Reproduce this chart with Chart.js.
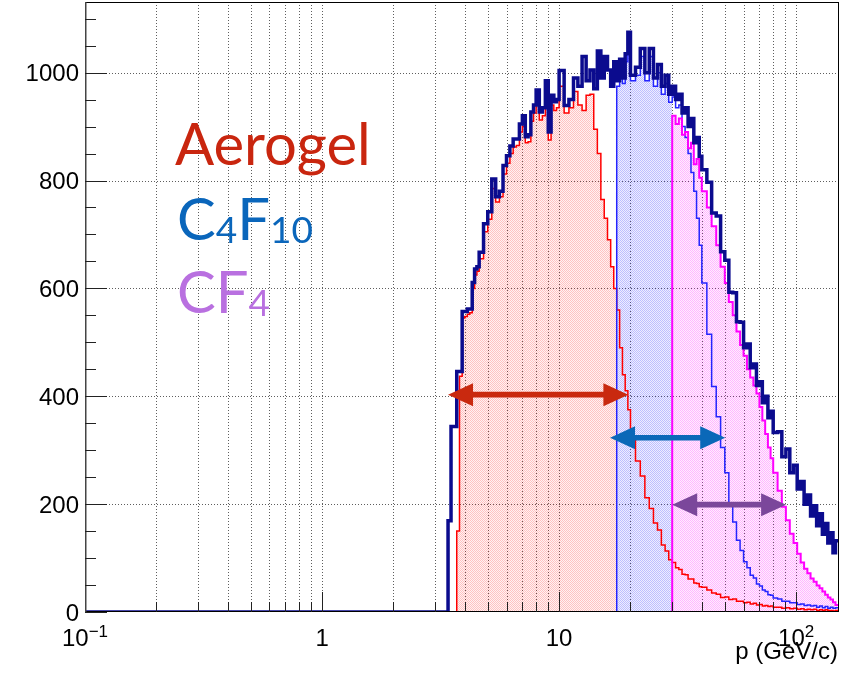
<!DOCTYPE html>
<html>
<head>
<meta charset="utf-8">
<title>Momentum coverage of the RICH radiators</title>
<script src="https://cdn.jsdelivr.net/npm/chart.js@4.4.1/dist/chart.umd.min.js"></script>
<style>
  html, body { margin: 0; padding: 0; background: #fff; }
  canvas { display: block; }
</style>
</head>
<body>
<canvas id="momentumChart" width="853" height="673"></canvas>
<script>
// Histogram bin edges in p (GeV/c)
const pBinEdges = [
  0.1, 3.3, 3.4, 3.5, 3.6, 3.7, 3.8, 3.9, 4.0, 4.1, 4.2, 4.3, 4.4, 4.5, 4.6,
  4.8, 5.0, 5.2, 5.4, 5.6, 5.8, 6.0, 6.2, 6.4, 6.6, 6.8, 7.0, 7.2, 7.4, 7.6, 7.8, 8.0,
  8.25, 8.5, 8.75, 9.0, 9.25, 9.5, 9.75, 10,
  10.5, 11, 11.5, 12, 12.5, 13, 13.5, 14, 14.5, 15, 15.5, 16, 16.5, 17, 17.5, 18, 18.5, 19, 19.5, 20,
  21, 22, 23, 24, 25, 26, 27, 28, 29, 30, 31, 32, 33, 34, 35, 36, 37, 38, 39, 40,
  42, 44, 46, 48, 50, 52, 54, 56, 58, 60, 62, 64, 66, 68, 70, 72, 74, 76, 78, 80,
  83.5, 87, 90.5, 94, 97.5, 101, 104.5, 108, 111.5, 115, 118.5, 122, 125.5, 129, 132.5, 136, 139.5, 143, 146.5,
  151.6
];

// all tracks (dark blue)
const totalCounts = [
  0, 0, 169, 344, 344, 446, 446, 557, 557, 562, 562, 611, 636, 640, 667,
  720, 742, 803, 770, 780, 828, 846, 864, 877, 877, 905, 920, 881, 885, 927, 940, 968,
  927, 935, 985, 890, 958, 946, 950, 1004,
  939, 950, 990, 975, 1030, 985, 1005, 970, 1040, 990, 1030, 1005, 975, 1020, 985, 1025, 990, 1035, 1075, 995,
  1010, 1045, 1000, 1045, 990, 1015, 975, 995, 960, 975, 950, 960, 925, 935, 900, 915, 870, 880, 845, 820,
  797, 740, 734, 668, 652, 593, 592, 538, 537, 490, 497, 453, 460, 420, 427, 388, 400, 360, 372, 333,
  334, 288, 302, 258, 272, 228, 242, 200, 217, 178, 197, 160, 182, 144, 164, 128, 147, 110, 132
];

// Aerogel (red)
const aerogelCounts = [
  0, 0, 0, 0, 0, 150, 437, 545, 548, 552, 555, 600, 625, 632, 655,
  705, 728, 785, 760, 770, 812, 832, 850, 862, 865, 890, 900, 870, 872, 910, 925, 950,
  912, 920, 965, 875, 940, 930, 935, 975,
  925, 935, 965, 940, 930, 958, 960, 895, 850, 765, 730, 690, 640, 600, 560, 490, 440, 410, 375, 320,
  280, 252, 212, 192, 165, 152, 124, 113, 97, 92, 82, 79, 70, 69, 61, 61, 54, 53, 47, 46,
  41, 35, 33, 27, 28, 23, 24, 20, 20, 17, 18, 15, 16, 13, 14, 11, 12, 10, 11, 9,
  9, 7, 8, 6, 7, 5, 6, 4, 5, 4, 5, 3, 4, 3, 4, 3, 3, 2, 3
];

// C4F10 (blue)
const c4f10Counts = [
  0, 0, 0, 0, 0, 0, 0, 0, 0, 0, 0, 0, 0, 0, 0,
  0, 0, 0, 0, 0, 0, 0, 0, 0, 0, 0, 0, 0, 0, 0, 0, 0,
  0, 0, 0, 0, 0, 0, 0, 0,
  0, 0, 0, 0, 0, 0, 0, 0, 0, 0, 0, 0, 0, 0, 975, 1010, 980, 1020, 1050, 985,
  995, 1030, 985, 1030, 975, 1000, 960, 980, 945, 955, 935, 940, 900, 880, 850, 815, 780, 730, 680, 610,
  515, 418, 362, 305, 258, 198, 167, 133, 114, 93, 82, 68, 63, 52, 48, 41, 38, 32, 31, 26,
  24, 20, 20, 17, 17, 14, 15, 12, 13, 11, 12, 9, 11, 8, 10, 7, 9, 7, 8
];

// CF4 (magenta)
const cf4Counts = [
  null, null, 0, 0, 0, 0, 0, 0, 0, 0, 0, 0, 0, 0, 0,
  0, 0, 0, 0, 0, 0, 0, 0, 0, 0, 0, 0, 0, 0, 0, 0, 0,
  0, 0, 0, 0, 0, 0, 0, 0,
  0, 0, 0, 0, 0, 0, 0, 0, 0, 0, 0, 0, 0, 0, 0, 0, 0, 0, 0, 0,
  0, 0, 0, 0, 0, 0, 0, 0, 0, 920, 905, 915, 885, 890, 860, 870, 830, 840, 805, 780,
  750, 715, 680, 640, 610, 575, 550, 520, 495, 475, 450, 435, 420, 405, 380, 355, 330, 305, 285, 258,
  225, 195, 170, 145, 128, 108, 92, 80, 72, 62, 56, 49, 44, 38, 32, 27, 23, 18, 13
];

// momentum window covered by each radiator (shaded part of each histogram)
const radiatorNames = ['Aerogel', 'C4F10', 'CF4'];
const radiatorBands = [[3.7, 17.5], [17.5, 30], [30, 151.6]];

// double arrows: from, to (GeV/c) and height (counts)
const arrowFrom = [3.4, 16.4, 30.0];
const arrowTo = [19.6, 50.2, 90.7];
const arrowLevel = [403, 323, 199];

// axes
const xRange = [0.1, 151.6];
const yRange = [0, 1131];
const yTickValues = [0, 200, 400, 600, 800, 1000];
const xMajorValues = [0.1, 1, 10, 100];
const xMajorBase = ['10', '1', '10', '10'];
const xMajorExp = ['\u22121', '', '', '2'];
const xAxisTitle = 'p (GeV/c)';

function stepPoints(values, from, to) {
  const pts = [];
  for (let i = from; i < to; i++) pts.push({ x: pBinEdges[i], y: values[i] });
  pts.push({ x: pBinEdges[to], y: values[to - 1] });
  return pts;
}

function bandIndex(p) {
  return pBinEdges.findIndex(e => Math.abs(e - p) < 1e-6);
}

function dotFill(r, g, b, light, dark) {
  const tile = document.createElement('canvas');
  tile.width = 2; tile.height = 2;
  const t = tile.getContext('2d');
  t.fillStyle = `rgba(${r},${g},${b},${light})`;
  t.fillRect(0, 0, 2, 2);
  t.clearRect(0, 0, 1, 1); t.clearRect(1, 1, 1, 1);
  t.fillStyle = `rgba(${r},${g},${b},${dark})`;
  t.fillRect(0, 0, 1, 1); t.fillRect(1, 1, 1, 1);
  return t.createPattern(tile, 'repeat');
}

const nBins = pBinEdges.length - 1;
const fillStyles = [dotFill(255, 0, 0, 0.05, 0.24), dotFill(40, 40, 255, 0.08, 0.3), dotFill(255, 0, 255, 0.07, 0.28)];
const seriesForBand = [aerogelCounts, c4f10Counts, cf4Counts];

const fillSets = radiatorBands.map((band, k) => ({
  label: radiatorNames[k] + ' range',
  data: stepPoints(seriesForBand[k], bandIndex(band[0]), bandIndex(band[1])),
  stepped: true,
  borderWidth: 0,
  backgroundColor: fillStyles[k],
  fill: 'origin',
  order: 4 + k
}));

function lineSet(label, values, color, width, order) {
  return {
    label: label,
    data: stepPoints(values, 0, nBins),
    stepped: true,
    borderColor: color,
    borderWidth: width,
    borderJoinStyle: 'miter',
    fill: false,
    order: order
  };
}

// ROOT style frame, grid, ticks, labels and the radiator annotations
const rootStyle = {
  id: 'rootStyle',
  beforeDatasetsDraw(chart) {
    const { ctx, chartArea: area, scales: { x, y } } = chart;
    ctx.save();
    ctx.strokeStyle = 'rgba(40,40,40,0.75)';
    ctx.lineWidth = 1;
    ctx.setLineDash([1, 2]);
    ctx.beginPath();
    xMajorValues.forEach(d => {
      for (let m = 1; m <= 9; m++) {
        const v = d * m;
        if (v <= xRange[0] || v >= xRange[1]) continue;
        const px = Math.round(x.getPixelForValue(v)) + 0.5;
        ctx.moveTo(px, area.top); ctx.lineTo(px, area.bottom);
      }
    });
    yTickValues.slice(1).forEach(v => {
      const py = Math.round(y.getPixelForValue(v)) + 0.5;
      ctx.moveTo(area.left, py); ctx.lineTo(area.right, py);
    });
    ctx.stroke();
    ctx.restore();
  },
  afterDatasetsDraw(chart) {
    const { ctx, chartArea: area, scales: { x, y } } = chart;
    ctx.save();

    // frame
    ctx.strokeStyle = '#000';
    ctx.lineWidth = 1;
    ctx.strokeRect(area.left + 0.5, area.top + 0.5, area.width - 1, area.height - 1);
    ctx.strokeStyle = '#444';
    ctx.lineWidth = 1.5;
    ctx.beginPath();
    ctx.moveTo(area.left + 0.75, area.top); ctx.lineTo(area.left + 0.75, area.bottom);
    ctx.stroke();

    // ticks (drawn inwards like ROOT)
    ctx.lineWidth = 1;
    ctx.strokeStyle = '#222';
    ctx.beginPath();
    for (let v = 0; v < yRange[1]; v += 50) {
      const py = Math.round(y.getPixelForValue(v)) + 0.5;
      const len = v % 200 === 0 ? 22 : 11;
      ctx.moveTo(area.left, py); ctx.lineTo(area.left + len, py);
    }
    xMajorValues.forEach(d => {
      for (let m = 1; m <= 9; m++) {
        const v = d * m;
        if (v <= xRange[0] || v >= xRange[1]) continue;
        const px = Math.round(x.getPixelForValue(v)) + 0.5;
        const len = m === 1 ? 20 : 10;
        ctx.moveTo(px, area.bottom); ctx.lineTo(px, area.bottom - len);
      }
    });
    ctx.stroke();

    // tick labels
    ctx.fillStyle = '#000';
    ctx.font = '24px "Liberation Sans", Arial, sans-serif';
    ctx.textAlign = 'right';
    ctx.textBaseline = 'alphabetic';
    yTickValues.forEach(v => {
      ctx.fillText(String(v), area.left - 6, y.getPixelForValue(v) + 8.5);
    });
    ctx.textAlign = 'left';
    xMajorValues.forEach((v, i) => {
      const main = '24px "Liberation Sans", Arial, sans-serif';
      const sup = '17px "Liberation Sans", Arial, sans-serif';
      ctx.font = main;
      const w1 = ctx.measureText(xMajorBase[i]).width;
      ctx.font = sup;
      const w2 = xMajorExp[i] ? ctx.measureText(xMajorExp[i]).width : 0;
      const x0 = x.getPixelForValue(v) - (w1 + w2) / 2;
      ctx.font = main;
      ctx.fillText(xMajorBase[i], x0, area.bottom + 34);
      if (xMajorExp[i]) {
        ctx.font = sup;
        ctx.fillText(xMajorExp[i], x0 + w1, area.bottom + 25);
      }
    });
    ctx.font = '24px "Liberation Sans", Arial, sans-serif';
    ctx.textAlign = 'right';
    ctx.fillText(xAxisTitle, area.right - 1, area.bottom + 47);

    // radiator arrows
    const arrowColors = ['#c9290f', '#0a68b8', '#7b479b'];
    arrowFrom.forEach((p1, i) => {
      const x1 = x.getPixelForValue(p1);
      const x2 = x.getPixelForValue(arrowTo[i]);
      const yc = y.getPixelForValue(arrowLevel[i]);
      const head = 25, half = 11.5, shaft = 2.8;
      ctx.fillStyle = arrowColors[i];
      ctx.beginPath();
      ctx.moveTo(x1, yc);
      ctx.lineTo(x1 + head, yc - half);
      ctx.lineTo(x1 + head, yc - shaft);
      ctx.lineTo(x2 - head, yc - shaft);
      ctx.lineTo(x2 - head, yc - half);
      ctx.lineTo(x2, yc);
      ctx.lineTo(x2 - head, yc + half);
      ctx.lineTo(x2 - head, yc + shaft);
      ctx.lineTo(x1 + head, yc + shaft);
      ctx.lineTo(x1 + head, yc + half);
      ctx.closePath();
      ctx.fill();
    });

    // radiator names with subscripts
    const big = '58px Lato, "Open Sans", sans-serif';
    const small = '37px Lato, "Open Sans", sans-serif';
    const labels = [
      { color: '#c9260f', parts: [['Aerogel', 0]], px: 0.2397, py: 829 },
      { color: '#0a66bb', parts: [['C', 0], ['4', 1], ['F', 0], ['10', 1]], px: 0.2444, py: 690 },
      { color: '#b970e0', parts: [['C', 0], ['F', 0], ['4', 1]], px: 0.2444, py: 554 }
    ];
    ctx.textAlign = 'left';
    labels.forEach(l => {
      let cx = x.getPixelForValue(l.px);
      const base = y.getPixelForValue(l.py);
      ctx.fillStyle = l.color;
      l.parts.forEach(([txt, sub]) => {
        ctx.font = sub ? small : big;
        ctx.fillText(txt, cx, base + (sub ? 3 : 0));
        cx += ctx.measureText(txt).width;
      });
    });

    ctx.restore();
  }
};

const config = {
  type: 'line',
  data: {
    datasets: [
      lineSet('All', totalCounts, '#0b0b8e', 3.5, 0),
      lineSet('CF4', cf4Counts, '#ff00ff', 2, 1),
      lineSet('C4F10', c4f10Counts, '#2424ff', 1.5, 2),
      lineSet('Aerogel', aerogelCounts, '#ff0000', 1.5, 3),
      ...fillSets
    ]
  },
  options: {
    responsive: false,
    animation: false,
    devicePixelRatio: 1,
    layout: { padding: { left: 85, right: 14, top: 2, bottom: 61 } },
    elements: { point: { radius: 0 }, line: { tension: 0 } },
    scales: {
      x: { type: 'logarithmic', display: false, min: xRange[0], max: xRange[1] },
      y: { type: 'linear', display: false, min: yRange[0], max: yRange[1] }
    },
    plugins: {
      legend: { display: false },
      tooltip: { enabled: false }
    }
  },
  plugins: [rootStyle]
};

const momentumChart = new Chart(document.getElementById('momentumChart'), config);
</script>
</body>
</html>
